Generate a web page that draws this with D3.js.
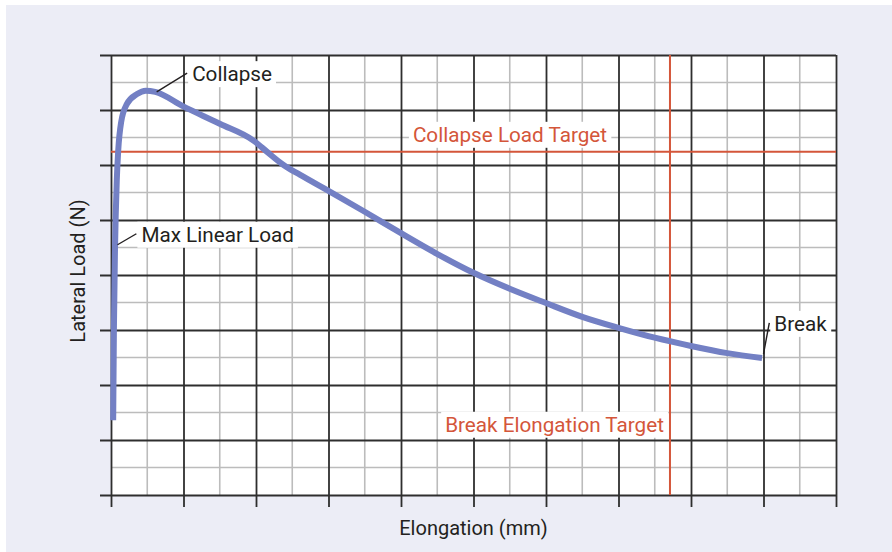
<!DOCTYPE html>
<html>
<head>
<meta charset="utf-8">
<script src="https://cdn.jsdelivr.net/npm/d3@7"></script>
<style>
  body { margin: 0; background: #ffffff; }
  text { font-family: Roboto, "Liberation Sans", sans-serif; }
</style>
</head>
<body>
<div id="chart"></div>
<script>
// Data (grid units: 10 major divisions on x, 8 on y)
var curve_x = [0.03, 0.04, 0.055, 0.08, 0.1, 0.14, 0.22, 0.36, 0.48, 0.61, 0.99, 1.5, 1.97,
               2.17, 2.38, 2.61, 3.0, 3.5, 4.0, 4.49, 5.0, 5.5, 6.0, 6.5, 7.0, 7.5, 8.0, 8.5, 8.98];
var curve_y = [1.36, 3.0, 4.45, 5.73, 6.27, 6.78, 7.11, 7.29, 7.35, 7.33, 7.07, 6.75, 6.44,
               6.22, 6.0, 5.82, 5.53, 5.15, 4.76, 4.39, 4.04, 3.75, 3.49, 3.24, 3.04, 2.86, 2.71, 2.58, 2.49];
var collapse_target = 6.24;   // load target (y)
var break_target    = 7.71;   // elongation target (x)
var x_title = "Elongation (mm)";
var y_title = "Lateral Load (N)";

// Annotations: anchor on curve (data units) + label
var notes = [
    { label: "Collapse",        ax: 0.63, ay: 7.33, tx: 1.05, ty: 7.67 },
    { label: "Max Linear Load", ax: 0.09, ay: 4.55, tx: 0.35, ty: 4.75 },
    { label: "Break",           ax: 9.0,  ay: 2.56, tx: 9.08, ty: 3.13 }
];

var chart_width  = 892;
var chart_height = 552;
var margin = { left: 111, top: 55, right: 56, bottom: 57 };
var w = chart_width - margin.left - margin.right;
var h = chart_height - margin.top - margin.bottom;
var label_size = 20.7;

var x_scale = d3.scaleLinear().domain([0, 10]).range([0, w]);
var y_scale = d3.scaleLinear().domain([0, 8]).range([h, 0]);

var svg = d3.select("#chart").append("svg")
    .attr("width", chart_width)
    .attr("height", chart_height);

svg.append("rect")
    .attr("x", 6).attr("y", 5)
    .attr("width", chart_width - 6).attr("height", chart_height - 5)
    .attr("fill", "#ecedf6");

var g = svg.append("g")
    .attr("transform", "translate(" + margin.left + "," + margin.top + ")");

g.append("rect").attr("width", w).attr("height", h).attr("fill", "#ffffff");

// Minor grid
var minor_x = d3.range(0.5, 10, 1);
var minor_y = d3.range(0.5, 8, 1);
g.selectAll(".minor-x").data(minor_x).enter().append("line")
    .attr("x1", x_scale).attr("x2", x_scale)
    .attr("y1", 0).attr("y2", h)
    .attr("stroke", "#bcbcbc").attr("stroke-width", 1.6);
g.selectAll(".minor-y").data(minor_y).enter().append("line")
    .attr("y1", y_scale).attr("y2", y_scale)
    .attr("x1", 0).attr("x2", w)
    .attr("stroke", "#bcbcbc").attr("stroke-width", 1.6);

// Major grid + outward ticks via axes
var x_axis = d3.axisBottom(x_scale).ticks(10).tickSize(-h).tickSizeOuter(0).tickFormat("");
var y_axis = d3.axisLeft(y_scale).ticks(8).tickSize(-w).tickSizeOuter(0).tickFormat("");

var gx = g.append("g").attr("transform", "translate(0," + h + ")").call(x_axis);
var gy = g.append("g").call(y_axis);
gx.select(".domain").remove();
gy.select(".domain").remove();
gx.selectAll(".tick line").attr("y2", -h).attr("y1", 12)
    .attr("stroke", "#2e2e2e").attr("stroke-width", 1.8);
gy.selectAll(".tick line").attr("x2", w).attr("x1", -11)
    .attr("stroke", "#2e2e2e").attr("stroke-width", 1.8);

// Target lines
g.append("line")
    .attr("x1", 0).attr("x2", w)
    .attr("y1", y_scale(collapse_target)).attr("y2", y_scale(collapse_target))
    .attr("stroke", "#d4563a").attr("stroke-width", 2);
g.append("line")
    .attr("x1", x_scale(break_target)).attr("x2", x_scale(break_target))
    .attr("y1", 0).attr("y2", h)
    .attr("stroke", "#d4563a").attr("stroke-width", 2);

// white box behind a label
function boxed(sel) {
    var b = sel.node().getBBox();
    g.insert("rect", function() { return sel.node(); })
        .attr("x", b.x - 4).attr("y", b.y - 1)
        .attr("width", b.width + 8).attr("height", b.height + 2)
        .attr("fill", "#ffffff");
}

var t1 = g.append("text")
    .attr("x", x_scale(break_target) - 6).attr("y", y_scale(1.15))
    .attr("text-anchor", "end")
    .attr("font-size", label_size).attr("fill", "#d4563a")
    .text("Break Elongation Target");
boxed(t1);

var t2 = g.append("text")
    .attr("x", 399).attr("y", y_scale(collapse_target) - 10)
    .attr("text-anchor", "middle")
    .attr("font-size", label_size).attr("fill", "#d4563a")
    .text("Collapse Load Target");
boxed(t2);

// Curve
var line = d3.line()
    .x(function(d, i) { return x_scale(curve_x[i]); })
    .y(function(d, i) { return y_scale(curve_y[i]); })
    .curve(d3.curveMonotoneX);

g.append("path")
    .datum(curve_x)
    .attr("d", line)
    .attr("fill", "none")
    .attr("stroke", "#7380c4")
    .attr("stroke-width", 6)
    .attr("stroke-linecap", "butt")
    .attr("stroke-linejoin", "round");

// Annotations
notes.forEach(function(n) {
    g.append("line")
        .attr("x1", x_scale(n.ax)).attr("y1", y_scale(n.ay))
        .attr("x2", x_scale(n.tx)).attr("y2", y_scale(n.ty))
        .attr("stroke", "#231f20").attr("stroke-width", 1.4);
    var t = g.append("text")
        .attr("x", x_scale(n.tx) + 5).attr("y", y_scale(n.ty) + 8)
        .attr("font-size", label_size).attr("fill", "#231f20")
        .text(n.label);
    boxed(t);
});

// Axis titles
svg.append("text")
    .attr("x", margin.left + w / 2).attr("y", 535)
    .attr("text-anchor", "middle")
    .attr("font-size", 20).attr("fill", "#231f20")
    .text(x_title);
svg.append("text")
    .attr("transform", "translate(85,271) rotate(-90)")
    .attr("text-anchor", "middle")
    .attr("font-size", 20).attr("fill", "#231f20")
    .text(y_title);
</script>
</body>
</html>
